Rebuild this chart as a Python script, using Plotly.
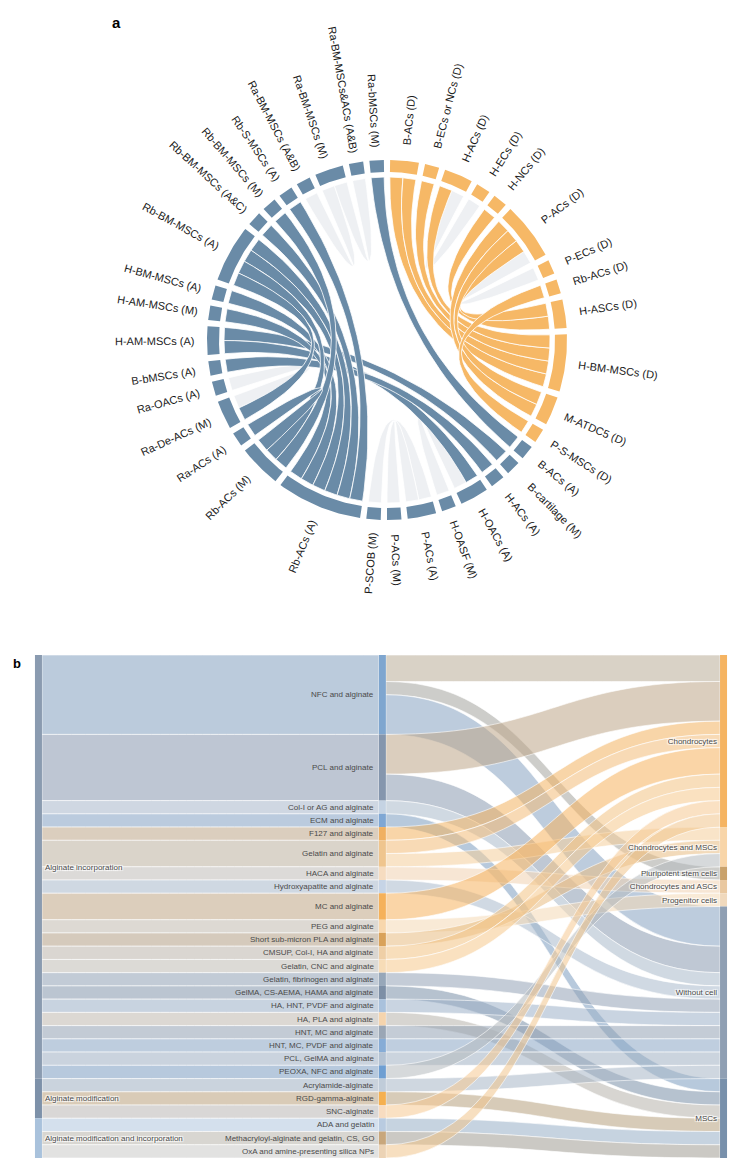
"""Chord diagram of cell sources (a) and Sankey of alginate bioinks (b)."""

import math

import plotly.graph_objects as go


# ---------------- panel a: chord diagram ----------------
SEGMENTS = [
    "B-ACs (D)", "B-ECs or NCs (D)", "H-ACs (D)", "H-ECs (D)", "H-NCs (D)",
    "P-ACs (D)", "P-ECs (D)", "Rb-ACs (D)", "H-ASCs (D)", "H-BM-MSCs (D)",
    "M-ATDC5 (D)", "P-S-MSCs (D)",
    "B-ACs (A)", "B-cartilage (M)", "H-ACs (A)", "H-OACs (A)", "H-OASF (M)",
    "P-ACs (A)", "P-ACs (M)", "P-SCOB (M)", "Rb-ACs (A)", "Rb-ACs (M)",
    "Ra-ACs (A)", "Ra-De-ACs (M)", "Ra-OACs (A)", "B-bMSCs (A)",
    "H-AM-MSCs (A)", "H-AM-MSCs (M)", "H-BM-MSCs (A)", "Rb-BM-MSCs (A)",
    "Rb-BM-MSCs (A&C)", "Rb-BM-MSCs (M)", "Rb-S-MSCs (A)", "Ra-BM-MSCs (A&B)",
    "Ra-BM-MSCs (M)", "Ra-BM-MSCs&ACs (A&B)", "Ra-bMSCs (M)",
]
SEGMENT_GROUP = ["D"] * 12 + ["AM"] * 25

CHORD_FROM = [
    "B-ACs (D)", "B-ACs (D)", "B-ECs or NCs (D)", "H-ACs (D)", "H-ACs (D)",
    "H-NCs (D)", "P-ACs (D)", "P-ACs (D)", "P-ACs (D)", "P-ACs (D)", "Rb-ACs (D)",
    "Ra-bMSCs (M)", "H-AM-MSCs (A)", "H-AM-MSCs (A)", "B-bMSCs (A)",
    "H-AM-MSCs (M)", "H-BM-MSCs (A)", "Rb-BM-MSCs (A)", "Rb-BM-MSCs (A)",
    "Rb-BM-MSCs (A)", "Rb-BM-MSCs (A)", "Rb-BM-MSCs (A&C)", "Rb-BM-MSCs (M)",
    "Rb-S-MSCs (A)", "Ra-ACs (A)", "Ra-OACs (A)", "Ra-BM-MSCs (M)",
    "Ra-BM-MSCs (M)", "P-ACs (A)", "P-ACs (A)", "H-OACs (A)",
]
CHORD_TO = [
    "H-BM-MSCs (D)", "H-BM-MSCs (D)", "H-BM-MSCs (D)", "H-BM-MSCs (D)", "H-ECs (D)",
    "H-ASCs (D)", "H-ASCs (D)", "M-ATDC5 (D)", "M-ATDC5 (D)", "P-ECs (D)", "P-S-MSCs (D)",
    "B-ACs (A)", "B-cartilage (M)", "H-OACs (A)", "H-ACs (A)",
    "Rb-ACs (A)", "Rb-ACs (A)", "Rb-ACs (A)", "Rb-ACs (A)",
    "Rb-ACs (M)", "Ra-De-ACs (M)", "Rb-ACs (A)", "Rb-ACs (M)",
    "Rb-ACs (A)", "Rb-ACs (M)", "Ra-De-ACs (M)", "Ra-BM-MSCs (A&B)",
    "Ra-BM-MSCs&ACs (A&B)", "P-SCOB (M)", "P-ACs (M)", "H-OASF (M)",
]
CHORD_KIND = [
    "D", "D", "D", "D", "faded",
    "D", "D", "D", "D", "faded", "D",
    "AM", "AM", "AM", "AM",
    "AM", "AM", "AM", "AM",
    "AM", "AM", "AM", "AM",
    "AM", "AM", "faded", "faded",
    "faded", "faded", "faded", "faded",
]

GROUP_COLOR = {"D": "#f6b866", "AM": "#6a8ba7", "faded": "#eef0f3"}

# ---------------- panel b: sankey ----------------
METHODS = [
    "Alginate incorporation",
    "Alginate modification",
    "Alginate modification and incorporation",
]
METHOD_COLOR = ["#8a9bb0", "#7d91a9", "#a9c2dc"]

MATERIALS = [
    "NFC and alginate", "PCL and alginate", "Col-I or AG and alginate",
    "ECM and alginate", "F127 and alginate", "Gelatin and alginate",
    "HACA and alginate", "Hydroxyapatite and alginate", "MC and alginate",
    "PEG and alginate", "Short sub-micron PLA and alginate",
    "CMSUP, Col-I, HA and alginate", "Gelatin, CNC and alginate",
    "Gelatin, fibrinogen and alginate", "GelMA, CS-AEMA, HAMA and alginate",
    "HA, HNT, PVDF and alginate", "HA, PLA and alginate", "HNT, MC and alginate",
    "HNT, MC, PVDF and alginate", "PCL, GelMA and alginate", "PEOXA, NFC and alginate",
    "Acrylamide-alginate", "RGD-gamma-alginate", "SNC-alginate",
    "ADA and gelatin", "Methacryloyl-alginate and gelatin, CS, GO",
    "OxA and amine-presenting silica NPs",
]
MATERIAL_METHOD = [0] * 21 + [1] * 3 + [2] * 3
MATERIAL_COUNT = [6, 5, 1, 1, 1, 2, 1, 1, 2, 1, 1, 1, 1, 1, 1, 1, 1, 1, 1, 1, 1,
                  1, 1, 1, 1, 1, 1]
MATERIAL_COLOR = [
    "#7fa6cf", "#8596ad", "#c5d3e3", "#7fa7d4", "#f0b060", "#efc58e",
    "#f6dcc0", "#c6d4e6", "#f5b15a", "#f8d7ad", "#d9a25a",
    "#efcfa6", "#f7dcb7", "#97a7b9", "#7d8fa6",
    "#a9c1dc", "#f5d4ad", "#9aa6b5", "#86acd6", "#b3c2d3", "#6f9fd2",
    "#c0ccd9", "#f5b050", "#f8dcc0", "#b9cbe0", "#c8a77c", "#ecd3b5",
]

CELLS = [
    "Chondrocytes", "Chondrocytes and MSCs", "Pluripotent stem cells",
    "Chondrocytes and ASCs", "Progenitor cells", "Without cell", "MSCs",
]
CELL_COLOR = ["#f5b462", "#f8d5a8", "#c9a26c", "#e9c8a0", "#f0d9bd", "#8f9fb3", "#7890ab"]

FLOW_MATERIAL = [0, 0, 0, 1, 1, 2, 3, 4, 5, 5, 6, 7, 8, 9, 10, 11, 12, 13, 14, 15,
                 16, 17, 18, 19, 20, 21, 22, 23, 24, 25, 26]
FLOW_CELL = [0, 2, 5, 0, 5, 5, 6, 0, 0, 1, 3, 5, 0, 4, 1, 0, 0, 5, 6, 5,
             6, 5, 5, 5, 1, 5, 6, 0, 6, 6, 0]
FLOW_VALUE = [2, 1, 3, 3, 2, 1, 1, 1, 1, 1, 1, 1, 2, 1, 1, 1, 1, 1, 1, 1,
              1, 1, 1, 1, 1, 1, 1, 1, 1, 1, 1]

# ---------------- layout constants (pixels of the 737 x 1170 page) ----------------
PAGE_W, PAGE_H = 737, 1170
BODY = 8                               # default body margin of the html page
W, H = PAGE_W - 2 * BODY, PAGE_H - 2 * BODY
CX, CY, R_PX = 387, 340, 180           # circle centre and outer ring radius (page px)
PANEL_A_BOTTOM = 640
RING_IN = 168 / R_PX
CHORD_R = 163 / R_PX
LABEL_START = 193                      # px from centre where labels start
GAP = 2.0                              # degrees between segments
FONT = "Arial, Liberation Sans, sans-serif"


def px(p):
    return (p - BODY) / W


def py(p):
    return 1 - (p - BODY) / H


def point(theta, r):
    t = math.radians(theta)
    return r * math.sin(t), r * math.cos(t)


def arc(a0, a1, r, n=24):
    return [point(a0 + (a1 - a0) * k / n, r) for k in range(n + 1)]


def bezier(p0, p2, n=30):
    pts = []
    for k in range(n + 1):
        t = k / n
        pts.append(((1 - t) ** 2 * p0[0] + (t * t) * p2[0],
                    (1 - t) ** 2 * p0[1] + (t * t) * p2[1]))
    return pts


def hex_rgb(color):
    color = color.lstrip("#")
    return tuple(int(color[i:i + 2], 16) for i in (0, 2, 4))


def blend(c1, c2, alpha):
    a, b = hex_rgb(c1), hex_rgb(c2)
    mix = [round((x + y) / 2) for x, y in zip(a, b)]
    return f"rgba({mix[0]},{mix[1]},{mix[2]},{alpha})"


def build_chord(fig):
    index = {name: i for i, name in enumerate(SEGMENTS)}
    ends = {i: [] for i in range(len(SEGMENTS))}
    for c, (a, b) in enumerate(zip(CHORD_FROM, CHORD_TO)):
        ends[index[a]].append((c, index[b], True))
        ends[index[b]].append((c, index[a], False))

    sizes = [len(ends[i]) for i in range(len(SEGMENTS))]
    unit = (360 - GAP * len(SEGMENTS)) / sum(sizes)
    starts, acc = [], GAP / 2
    for s in sizes:
        starts.append(acc)
        acc += s * unit + GAP
    mids = [st + s * unit / 2 for st, s in zip(starts, sizes)]

    # sub-arcs of each chord end, ordered to avoid crossings
    span = {}
    for i in range(len(SEGMENTS)):
        order = sorted(
            ends[i],
            key=lambda e: (-((mids[e[1]] - mids[i]) % 360), e[0] if e[2] else -e[0]),
        )
        pos = starts[i]
        for c, _, is_from in order:
            span[(c, is_from)] = (pos, pos + unit)
            pos += unit

    # ring segments
    for group in ("AM", "D"):
        xs, ys = [], []
        for i, g in enumerate(SEGMENT_GROUP):
            if g != group:
                continue
            a0, a1 = starts[i], starts[i] + sizes[i] * unit
            pts = arc(a0, a1, 1.0) + arc(a1, a0, RING_IN)
            xs += [p[0] for p in pts] + [None]
            ys += [p[1] for p in pts] + [None]
        fig.add_trace(go.Scatter(
            x=xs, y=ys, mode="lines", fill="toself",
            fillcolor=GROUP_COLOR[group], line={"width": 0},
            hoverinfo="skip", showlegend=False,
        ))

    # ribbons: faded ones underneath
    order = sorted(range(len(CHORD_KIND)), key=lambda c: CHORD_KIND[c] != "faded")
    for c in order:
        s0, s1 = span[(c, True)]
        t0, t1 = span[(c, False)]
        pts = (arc(s0, s1, CHORD_R, 6)
               + bezier(point(s1, CHORD_R), point(t0, CHORD_R))
               + arc(t0, t1, CHORD_R, 6)
               + bezier(point(t1, CHORD_R), point(s0, CHORD_R)))
        fig.add_trace(go.Scatter(
            x=[p[0] for p in pts], y=[p[1] for p in pts],
            mode="lines", fill="toself",
            fillcolor=GROUP_COLOR[CHORD_KIND[c]],
            line={"color": "white", "width": 0.8},
            hoverinfo="skip", showlegend=False,
        ))

    annotations = []
    for name, mid in zip(SEGMENTS, mids):
        right = mid < 180
        angle = mid - 90 if right else mid - 270
        length = len(name) * 6.1
        r = (LABEL_START + length / 2) / R_PX
        x, y = point(mid, r)
        annotations.append({
            "x": x, "y": y, "xref": "x", "yref": "y", "text": name,
            "showarrow": False, "textangle": angle,
            "xanchor": "center", "yanchor": "middle",
            "font": {"family": FONT, "size": 11, "color": "#1a1a1a"},
        })
    return annotations


def centres(values):
    total = sum(values)
    out, acc = [], 0
    for v in values:
        out.append((acc + v / 2) / total)
        acc += v
    return out


SANKEY_TOP, SANKEY_BOTTOM = 655, 1158
SANKEY_LEFT, SANKEY_RIGHT = 35, 727
MID_LABEL_RIGHT = 376


def build_sankey(fig):
    n_m, n_t = len(METHODS), len(MATERIALS)
    method_total = [sum(c for c, m in zip(MATERIAL_COUNT, MATERIAL_METHOD) if m == k)
                    for k in range(n_m)]
    cell_total = [sum(v for v, c in zip(FLOW_VALUE, FLOW_CELL) if c == k)
                  for k in range(len(CELLS))]

    column_x = [0.005, 0.502, 0.995]
    labels = METHODS + [""] * n_t + CELLS
    colors = METHOD_COLOR + MATERIAL_COLOR + CELL_COLOR
    xs = [column_x[0]] * n_m + [column_x[1]] * n_t + [column_x[2]] * len(CELLS)
    mid_y = centres(MATERIAL_COUNT)
    ys = centres(method_total) + mid_y + centres(cell_total)

    source = list(MATERIAL_METHOD) + [n_m + m for m in FLOW_MATERIAL]
    target = [n_m + i for i in range(n_t)] + [n_m + n_t + c for c in FLOW_CELL]
    value = list(MATERIAL_COUNT) + list(FLOW_VALUE)
    link_color = [blend(colors[s], colors[t], 0.55) for s, t in zip(source, target)]

    fig.add_trace(go.Sankey(
        domain={"x": [px(SANKEY_LEFT), px(SANKEY_RIGHT)],
                "y": [py(SANKEY_BOTTOM), py(SANKEY_TOP)]},
        arrangement="fixed",
        node={
            "label": labels, "color": colors, "x": xs, "y": ys,
            "pad": 0, "thickness": 7, "line": {"width": 0},
        },
        link={
            "source": source, "target": target, "value": value,
            "color": link_color, "line": {"color": "white", "width": 0.6},
        },
        textfont={"family": FONT, "size": 8, "color": "#4a4a4a"},
        hoverinfo="skip",
    ))

    # labels of the middle column sit to the left of their nodes
    span = SANKEY_BOTTOM - SANKEY_TOP
    notes = []
    for name, yc in zip(MATERIALS, mid_y):
        notes.append({
            "x": px(MID_LABEL_RIGHT), "y": py(SANKEY_TOP + yc * span),
            "xref": "paper", "yref": "paper", "text": name, "showarrow": False,
            "xanchor": "right", "yanchor": "middle",
            "font": {"family": FONT, "size": 8, "color": "#4a4a4a"},
        })
    return notes


def main():
    fig = go.Figure()
    annotations = build_chord(fig)
    annotations += build_sankey(fig)

    annotations += [
        {"x": px(117), "y": py(22), "xref": "paper", "yref": "paper", "text": "<b>a</b>",
         "showarrow": False, "xanchor": "center", "yanchor": "middle",
         "font": {"family": FONT, "size": 15, "color": "black"}},
        {"x": px(17), "y": py(663), "xref": "paper", "yref": "paper", "text": "<b>b</b>",
         "showarrow": False, "xanchor": "center", "yanchor": "middle",
         "font": {"family": FONT, "size": 13, "color": "black"}},
    ]

    fig.update_layout(
        width=W, height=H,
        margin={"l": 0, "r": 0, "t": 0, "b": 0},
        paper_bgcolor="white", plot_bgcolor="white",
        showlegend=False,
        xaxis={"domain": [0, 1],
               "range": [(BODY - CX) / R_PX, (BODY + W - CX) / R_PX],
               "visible": False, "fixedrange": True},
        yaxis={"domain": [py(PANEL_A_BOTTOM), 1],
               "range": [(CY - PANEL_A_BOTTOM) / R_PX, (CY - BODY) / R_PX],
               "visible": False, "fixedrange": True},
        annotations=annotations,
    )
    fig.write_html("out.html")


if __name__ == "__main__":
    main()
